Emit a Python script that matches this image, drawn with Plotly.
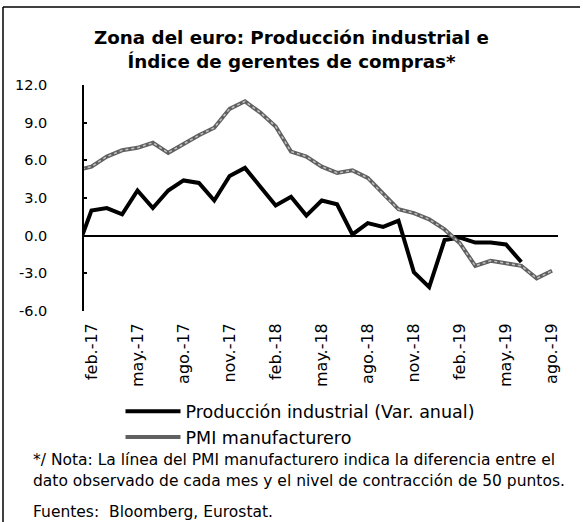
import plotly.graph_objects as go

months = ["ene.-17", "feb.-17", "mar.-17", "abr.-17", "may.-17", "jun.-17", "jul.-17", "ago.-17",
          "sept.-17", "oct.-17", "nov.-17", "dic.-17",
          "ene.-18", "feb.-18", "mar.-18", "abr.-18", "may.-18", "jun.-18", "jul.-18", "ago.-18",
          "sept.-18", "oct.-18", "nov.-18", "dic.-18",
          "ene.-19", "feb.-19", "mar.-19", "abr.-19", "may.-19", "jun.-19", "jul.-19", "ago.-19"]

produccion = [-1.3, 2.0, 2.2, 1.7, 3.6, 2.2, 3.6, 4.4, 4.2, 2.8, 4.75, 5.4,
              3.9, 2.4, 3.1, 1.6, 2.8, 2.5, 0.1, 1.0, 0.7, 1.2, -2.9, -4.1,
              -0.35, -0.15, -0.55, -0.55, -0.7, -2.1, None, None]

pmi = [5.2, 5.5, 6.3, 6.8, 7.0, 7.4, 6.6, 7.3, 8.0, 8.6, 10.1, 10.7,
       9.8, 8.7, 6.7, 6.3, 5.5, 5.0, 5.2, 4.6, 3.3, 2.1, 1.8, 1.3,
       0.5, -0.6, -2.4, -2.0, -2.2, -2.4, -3.4, -2.8]

x_ticks = ["feb.-17", "may.-17", "ago.-17", "nov.-17", "feb.-18", "may.-18",
           "ago.-18", "nov.-18", "feb.-19", "may.-19", "ago.-19"]
y_ticks = [-6, -3, 0, 3, 6, 9, 12]

FONT = "DejaVu Sans"

fig = go.Figure()
fig.add_trace(go.Scatter(x=months, y=produccion, mode="lines", name="Producción industrial (Var. anual)",
                         line=dict(color="black", width=4), connectgaps=False))
fig.add_trace(go.Scatter(x=months, y=pmi, mode="lines", name="PMI manufacturero",
                         line=dict(color="#606060", width=4)))
fig.add_trace(go.Scatter(x=months, y=pmi, mode="lines", showlegend=False, hoverinfo="skip",
                         line=dict(color="#c0c0c0", width=1.5, dash="dot")))

fig.update_layout(
    width=583, height=522,
    margin=dict(l=84, r=25, t=85, b=211, autoexpand=False),
    paper_bgcolor="white", plot_bgcolor="white",
    font=dict(family=FONT, color="black"),
    title=dict(text="<b>Zona del euro: Producción industrial e<br>Índice de gerentes de compras*</b>",
               x=0.5, xref="container", xanchor="center",
               y=1 - 44 / 522, yref="container", yanchor="top",
               font=dict(family=FONT, size=18.3, color="black")),
    showlegend=True,
    legend=dict(x=0.077, y=-0.365, xanchor="left", yanchor="top", orientation="v",
                font=dict(family=FONT, size=17.5, color="black"),
                bgcolor="rgba(0,0,0,0)", itemwidth=55, tracegroupgap=0),
)

fig.update_xaxes(
    type="category", categoryorder="array", categoryarray=months,
    range=[0.515, 31.39],
    tickmode="array", tickvals=x_ticks, ticktext=x_ticks,
    tickangle=-90, ticks="", showline=False, showgrid=False, zeroline=False,
    tickfont=dict(family=FONT, size=16, color="black"),
    ticklabelstandoff=8,
)
fig.update_yaxes(
    range=[-6, 12], tickmode="array", tickvals=y_ticks,
    ticktext=[f"{v:.1f}" for v in y_ticks],
    showline=True, linecolor="black", linewidth=1.5,
    ticks="inside", ticklen=3, tickcolor="black", tickwidth=1.5,
    showgrid=False, zeroline=True, zerolinecolor="black", zerolinewidth=1.5,
    tickfont=dict(family=FONT, size=14.5, color="black"),
    ticklabelstandoff=32,
)

# frame lines
fig.add_shape(type="line", xref="paper", yref="paper", x0=(3 - 84) / 474, x1=(3 - 84) / 474,
              y0=(311 - 7) / 226, y1=(311 - 522) / 226, line=dict(color="black", width=1.5))
fig.add_shape(type="line", xref="paper", yref="paper", x0=(3 - 84) / 474, x1=(580 - 84) / 474,
              y0=(311 - 7) / 226, y1=(311 - 7) / 226, line=dict(color="black", width=1.5))

notes = [("*/ Nota: La línea del PMI manufacturero indica la diferencia entre el", 460),
         ("dato observado de cada mes y el nivel de contracción de 50 puntos.", 481),
         ("Fuentes:  Bloomberg, Eurostat.", 512)]
for txt, ypx in notes:
    fig.add_annotation(text=txt, xref="paper", yref="paper",
                       x=(31 - 84) / 474, y=(311 - ypx) / 226,
                       xanchor="left", yanchor="middle", showarrow=False,
                       font=dict(family=FONT, size=15.5, color="black"))

fig.write_html("out.html", post_script="document.body.style.margin='0';",
               config={"displayModeBar": False})
